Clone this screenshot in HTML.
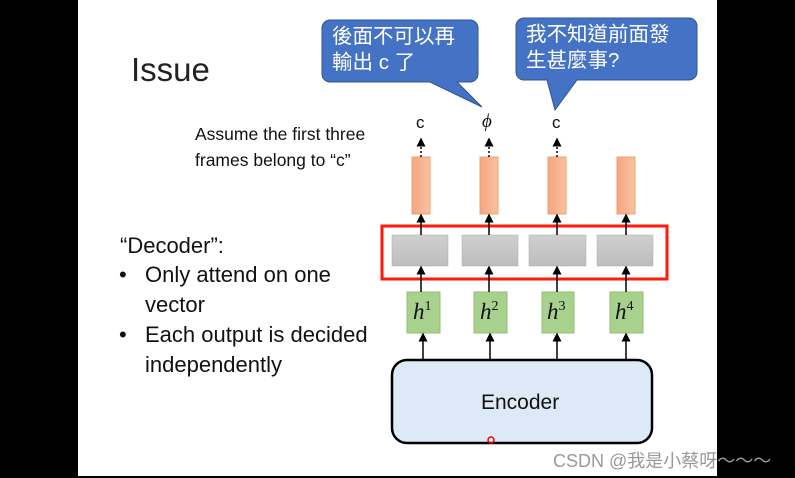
<!DOCTYPE html>
<html><head><meta charset="utf-8"><style>
body{margin:0;width:795px;height:478px;background:#000;position:relative;overflow:hidden;font-family:"Liberation Sans","Noto Sans CJK TC",sans-serif}
.slide{position:absolute;left:78px;top:0;width:639px;height:476px;background:#fff}
.a{position:absolute;white-space:nowrap;color:#111}
.h{position:absolute;white-space:nowrap;font-size:23px;font-style:italic;font-family:'Liberation Serif',serif;color:#111}
.h sup{font-size:14px;font-style:normal;vertical-align:9px}
</style></head><body>
<div class="slide"></div>
<svg width="795" height="478" style="position:absolute;left:0;top:0">
<defs>
<marker id="ar" markerWidth="6" markerHeight="6" refX="5" refY="3" orient="auto"><path d="M0,0L6,3L0,6z" fill="#000"/></marker>
<linearGradient id="og" x1="0" x2="1"><stop offset="0" stop-color="#f4a67f"/><stop offset="1" stop-color="#f9c2a2"/></linearGradient>
<linearGradient id="gg" x1="0" y1="0" x2="0" y2="1"><stop offset="0" stop-color="#d0d0d0"/><stop offset="1" stop-color="#bdbdbd"/></linearGradient>
</defs>
<path d="M330,20H470a8,8 0 0 1 8,8V74a8,8 0 0 1-8,8H457L482,107L430,82H330a8,8 0 0 1-8-8V28a8,8 0 0 1 8-8z" fill="#4472c4" stroke="#2f5597" stroke-width="1"/>
<path d="M524,18H689a8,8 0 0 1 8,8V72a8,8 0 0 1-8,8H577L555,110L547,80H524a8,8 0 0 1-8-8V26a8,8 0 0 1 8-8z" fill="#4472c4" stroke="#2f5597" stroke-width="1"/>
<g fill="url(#og)" stroke="#f0a070" stroke-width="1">
<rect x="412" y="157" width="18" height="57"/><rect x="480" y="157" width="18" height="57"/>
<rect x="548" y="157" width="18" height="57"/><rect x="617" y="157" width="18" height="57"/></g>
<g stroke="#000" stroke-width="1.5" stroke-dasharray="2,2" marker-end="url(#ar)">
<line x1="421" y1="157" x2="421" y2="139"/><line x1="489" y1="157" x2="489" y2="139"/><line x1="557" y1="157" x2="557" y2="139"/></g>
<rect x="382" y="226" width="285" height="53" fill="none" stroke="#ff1a0a" stroke-width="3"/>
<g fill="url(#gg)" stroke="#aaa" stroke-width="0.5">
<rect x="392" y="235" width="56" height="31"/><rect x="462" y="235" width="56" height="31"/>
<rect x="529" y="235" width="57" height="31"/><rect x="597" y="235" width="56" height="31"/></g>
<g fill="#a9d18e" stroke="#8fbf70" stroke-width="1">
<rect x="407" y="292" width="33" height="41"/><rect x="474" y="292" width="33" height="41"/>
<rect x="542" y="292" width="32" height="41"/><rect x="610" y="292" width="33" height="41"/></g>
<g stroke="#000" stroke-width="1.5" marker-end="url(#ar)">
<line x1="421" y1="235" x2="421" y2="215"/><line x1="489" y1="235" x2="489" y2="215"/><line x1="557" y1="235" x2="557" y2="215"/><line x1="626" y1="235" x2="626" y2="215"/>
<line x1="421" y1="292" x2="421" y2="267"/><line x1="489" y1="292" x2="489" y2="267"/><line x1="557" y1="292" x2="557" y2="267"/><line x1="626" y1="292" x2="626" y2="267"/>
<line x1="423" y1="360" x2="423" y2="334"/><line x1="490" y1="360" x2="490" y2="334"/><line x1="557" y1="360" x2="557" y2="334"/><line x1="626" y1="360" x2="626" y2="334"/></g>
<rect x="392" y="360" width="260" height="83" rx="15" fill="#dde9f6" stroke="#000" stroke-width="2.5"/>
<circle cx="491" cy="440" r="3" fill="none" stroke="#e00" stroke-width="1.5"/>
</svg>
<div class="a" style="left:131px;top:51px;font-size:33px;color:#222">Issue</div>
<div class="a" style="left:332px;top:24px;font-size:20.5px;line-height:26px;color:#fff">後面不可以再<br>輸出 c 了</div>
<div class="a" style="left:526px;top:22px;font-size:20.5px;line-height:26px;color:#fff">我不知道前面發<br>生甚麼事?</div>
<div class="a" style="left:195px;top:121px;font-size:17.5px;line-height:26px">Assume the first three<br>frames belong to “c”</div>
<div class="a" style="left:416px;top:113px;font-size:17px">c</div>
<div class="a" style="left:482px;top:111px;font-size:19px;font-style:italic;font-family:'Liberation Serif',serif">ϕ</div>
<div class="a" style="left:552px;top:113px;font-size:17px">c</div>
<div class="a" style="left:120px;top:231px;font-size:22px;line-height:30px">“Decoder”:</div>
<div class="a" style="left:119px;top:260px;font-size:22px;line-height:30px">•</div>
<div class="a" style="left:119px;top:320px;font-size:22px;line-height:30px">•</div>
<div class="a" style="left:145px;top:260px;font-size:22px;line-height:30px">Only attend on one<br>vector<br>Each output is decided<br>independently</div>
<div class="h" style="left:413px;top:299px">h<sup>1</sup></div>
<div class="h" style="left:480px;top:299px">h<sup>2</sup></div>
<div class="h" style="left:547px;top:299px">h<sup>3</sup></div>
<div class="h" style="left:615px;top:299px">h<sup>4</sup></div>
<div class="a" style="left:481px;top:391px;font-size:21px">Encoder</div>
<div class="a" style="left:553px;top:447px;font-size:18px;color:#999">CSDN @我是小蔡呀～～～</div>
</body></html>
